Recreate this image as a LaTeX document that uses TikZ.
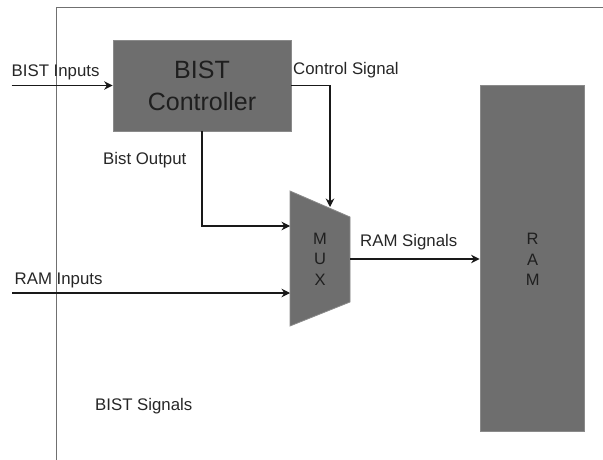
\documentclass[tikz,border=0pt]{standalone}
\usepackage{fontspec}
\setmainfont{Liberation Sans}
\usetikzlibrary{arrows.meta}
\definecolor{boxfill}{HTML}{6E6E6E}
\definecolor{boxline}{HTML}{8A8A8A}
\definecolor{lbl}{HTML}{262626}
\definecolor{framec}{HTML}{707070}
\tikzset{
  blk/.style={draw=boxline, fill=boxfill, line width=0.8pt, inner sep=0pt},
  lab/.style={anchor=west, inner sep=0pt, text=lbl, font=\fontsize{16.8}{19}\selectfont},
  arr/.style={draw=black!90, line width=1.1pt, -{Stealth[length=8.5pt,width=8.5pt]}},
  framel/.style={draw=framec, line width=0.9pt}
}
\begin{document}
\begin{tikzpicture}[x=1pt,y=-1pt]
\useasboundingbox (0,0) rectangle (603,460);
% frame
\coordinate (fb) at (56,460);
\coordinate (fc) at (56,7.5);
\coordinate (fr) at (603,7.5);
\draw[framel] (fb) -- (fc) -- (fr);
% BIST controller
\node[blk, minimum width=178pt, minimum height=91pt, align=center,
      text=black!88, font=\fontsize{25}{32}\selectfont] (ctrl) at (202,85.5) {BIST\\Controller};
% MUX
\coordinate (m1) at (290,191);
\coordinate (m2) at (350,217);
\coordinate (m3) at (350,302);
\coordinate (m4) at (290,326);
\draw[blk] (m1) -- (m2) -- (m3) -- (m4) -- cycle;
\node[align=center, inner sep=0pt, text=black!88, font=\fontsize{16.5}{20.5}\selectfont] (mux) at (320,259) {M\\U\\X};
% RAM
\node[blk, minimum width=104.6pt, minimum height=346.7pt] (ram) at (532.3,258.4) {};
\node[align=center, inner sep=0pt, text=black!88, font=\fontsize{16.5}{20.5}\selectfont] (ramt) at (532.7,259.5) {R\\A\\M};
% labels
\node[lab] (lbin) at (11.5,72) {BIST Inputs};
\node[lab] (lcs) at (293,70) {Control Signal};
\node[lab] (lbo) at (103,160) {Bist Output};
\node[lab] (lrs) at (360,242) {RAM Signals};
\node[lab] (lri) at (14.5,280) {RAM Inputs};
\node[lab] (lbs) at (95,406) {BIST Signals};
% connectors
\coordinate (bin) at (11.5,85.5);
\draw[arr] (bin) -- (bin -| ctrl.west);
\coordinate (cs) at (330,207);
\draw[arr] (ctrl.east) -| (cs);
\coordinate (bo) at (290,226);
\draw[arr] (ctrl.south) |- (bo);
\coordinate (rin) at (12,293);
\coordinate (rine) at (290,293);
\draw[arr] (rin) -- (rine);
\coordinate (mout) at (350,259);
\draw[arr] (mout) -- (mout -| ram.west);
\end{tikzpicture}
\end{document}
